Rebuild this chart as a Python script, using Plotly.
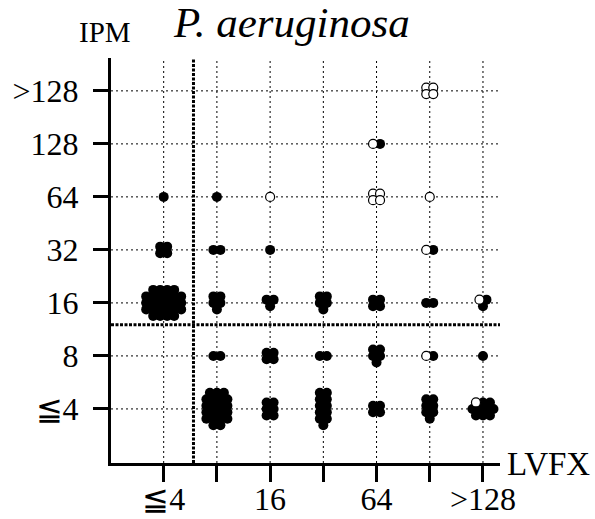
import math
import plotly.graph_objects as go

# ---------------- data ----------------
x_labels = ["≦4", "8", "16", "32", "64", "128", ">128"]
y_labels = ["≦4", "8", "16", "32", "64", "128", ">128"]
x_ticktext = ["≦4", "", "16", "", "64", "", ">128"]

# each cell: LVFX MIC category, IPM MIC category, number of strains (filled / open symbols)
cell_lvfx = ["≦4", "≦4", "≦4", "8", "8", "8", "8", "8",
             "16", "16", "16", "16", "16",
             "32", "32", "32",
             "64", "64", "64", "64", "64",
             "128", "128", "128", "128", "128", "128",
             ">128", ">128", ">128"]
cell_ipm = ["16", "32", "64", "64", "32", "16", "8", "≦4",
            "64", "32", "16", "8", "≦4",
            "16", "8", "≦4",
            "128", "64", "16", "8", "≦4",
            ">128", "64", "32", "16", "8", "≦4",
            "16", "8", "≦4"]
n_filled = [26, 4, 1, 1, 2, 5, 2, 21,
            0, 1, 3, 4, 6,
            5, 2, 11,
            1, 0, 4, 5, 4,
            0, 0, 1, 2, 1, 7,
            2, 1, 9]
n_open = [0, 0, 0, 0, 0, 0, 0, 0,
          1, 0, 0, 0, 0,
          0, 0, 0,
          1, 4, 0, 0, 0,
          4, 1, 1, 0, 1, 0,
          1, 0, 1]

# ---------------- styling / layout of clusters ----------------
cluster_cols = [6, 2, 1, 1, 2, 2, 2, 4,
                1, 1, 2, 2, 2,
                2, 2, 2,
                2, 2, 2, 2, 2,
                2, 1, 2, 2, 2, 2,
                2, 1, 4]

W, H = 595, 519
L, R, T, B = 111, 95, 58, 56
XR = [-0.99, 6.32]
YR = [-1.02, 6.62]
px_x = (W - L - R) / (XR[1] - XR[0])
px_y = (H - T - B) / (YR[1] - YR[0])
DX, DY = 7.0, 6.5  # pixel spacing of dots inside a cluster
TICK_X, TICK_Y = 17, 15


def cluster_offsets(n, cols):
    cols = max(1, min(cols, n))
    rows = math.ceil(n / cols)
    d = rows * cols - n
    counts = [cols] * rows
    if rows == 1:
        counts = [n]
    else:
        top = d // 2
        counts[0] -= top
        counts[-1] -= d - top
    pts = []
    for r, k in enumerate(counts):
        for j in range(k):
            pts.append(((j - (k - 1) / 2) * DX, ((rows - 1) / 2 - r) * DY))
    return pts


fx, fy, ox, oy = [], [], [], []
for lv, ip, nf, no, c in zip(cell_lvfx, cell_ipm, n_filled, n_open, cluster_cols):
    cx = x_labels.index(lv)
    cy = y_labels.index(ip)
    offs = cluster_offsets(nf + no, c)
    for i, (dx, dy) in enumerate(offs):
        xv = cx + dx / px_x
        yv = cy + dy / px_y
        if i < no:
            ox.append(xv); oy.append(yv)
        else:
            fx.append(xv); fy.append(yv)

FONT = "Liberation Serif"

fig = go.Figure()

# dotted grid at every category
for i in range(len(x_labels)):
    fig.add_shape(type="line", xref="x", yref="y", x0=i, x1=i, y0=YR[0], y1=YR[1],
                  line=dict(color="black", width=1, dash="2px,3px"), layer="below")
for i in range(len(y_labels)):
    fig.add_shape(type="line", xref="x", yref="y", x0=XR[0], x1=XR[1], y0=i, y1=i,
                  line=dict(color="black", width=1, dash="2px,3px"), layer="below")

fig.add_trace(go.Scatter(x=fx, y=fy, mode="markers",
                         marker=dict(size=10, color="black", line=dict(width=0)),
                         cliponaxis=False, showlegend=False))
fig.add_trace(go.Scatter(x=ox, y=oy, mode="markers",
                         marker=dict(size=9, color="white", line=dict(width=1.2, color="black")),
                         cliponaxis=False, showlegend=False))

# outside tick marks as line-shaped markers just outside the axes
fig.add_trace(go.Scatter(x=list(range(len(x_labels))),
                         y=[YR[0] - (TICK_X / 2) / px_y] * len(x_labels),
                         mode="markers", cliponaxis=False, showlegend=False, hoverinfo="skip",
                         marker=dict(symbol="line-ns", size=TICK_X,
                                     line=dict(width=3, color="black"), color="black")))
fig.add_trace(go.Scatter(x=[XR[0] - (TICK_Y / 2) / px_x] * len(y_labels),
                         y=list(range(len(y_labels))),
                         mode="markers", cliponaxis=False, showlegend=False, hoverinfo="skip",
                         marker=dict(symbol="line-ew", size=TICK_Y,
                                     line=dict(width=3, color="black"), color="black")))

# threshold lines
fig.add_shape(type="line", xref="x", yref="y", x0=0.56, x1=0.56, y0=YR[0], y1=YR[1],
              line=dict(color="black", width=3, dash="3px,1.5px"))
fig.add_shape(type="line", xref="x", yref="y", x0=XR[0], x1=XR[1], y0=1.59, y1=1.59,
              line=dict(color="black", width=3, dash="3px,1.5px"))


def pxx(p):
    return (p - L) / (W - L - R)


def pxy(p):
    return (H - B - p) / (H - T - B)


annotations = [
    dict(text="<i>P. aeruginosa</i>", x=pxx(291), y=pxy(22), xref="paper", yref="paper",
         showarrow=False, xanchor="center", yanchor="middle",
         font=dict(family=FONT, size=43, color="black")),
    dict(text="IPM", x=pxx(105), y=pxy(32), xref="paper", yref="paper",
         showarrow=False, xanchor="center", yanchor="middle",
         font=dict(family=FONT, size=29, color="black")),
    dict(text="LVFX", x=pxx(505), y=pxy(464), xref="paper", yref="paper",
         showarrow=False, xanchor="left", yanchor="middle",
         font=dict(family=FONT, size=33, color="black")),
]

fig.update_layout(
    width=W, height=H,
    margin=dict(l=L, r=R, t=T, b=B, pad=0, autoexpand=False),
    paper_bgcolor="white", plot_bgcolor="white",
    font=dict(family=FONT, size=32, color="black"),
    annotations=annotations,
    xaxis=dict(range=XR, tickmode="array", tickvals=list(range(7)), ticktext=x_ticktext,
               showline=True, linecolor="black", linewidth=3, automargin=False,
               ticks="outside", ticklen=16, tickwidth=3, tickcolor="black",
               showgrid=False, zeroline=False, fixedrange=True,
               ticklabelstandoff=-10),
    yaxis=dict(range=YR, tickmode="array", tickvals=list(range(7)), ticktext=y_labels,
               showline=True, linecolor="black", linewidth=3, automargin=False,
               ticks="outside", ticklen=15, tickwidth=3, tickcolor="black",
               showgrid=False, zeroline=False, fixedrange=True, ticklabelstandoff=8),
)

fig.write_html("out.html")
